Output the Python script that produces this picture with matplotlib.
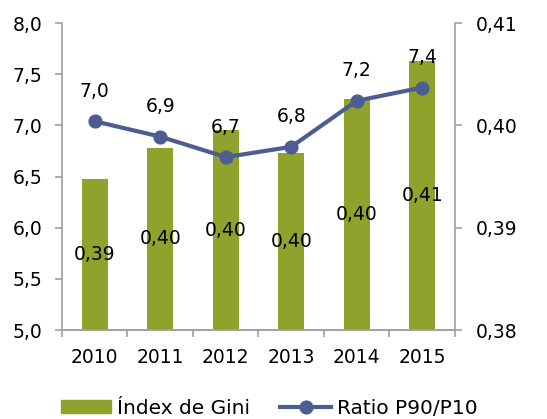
import matplotlib.pyplot as plt
from matplotlib.lines import Line2D
from matplotlib.patches import Patch
from matplotlib.ticker import FixedLocator

plt.rcParams['font.family'] = ['DejaVu Sans']

years = ['2010', '2011', '2012', '2013', '2014', '2015']
gini = [0.3948, 0.3978, 0.3995, 0.3973, 0.4026, 0.4063]
ratio = [7.04, 6.89, 6.69, 6.79, 7.24, 7.37]

GREEN = '#8FA22C'
BLUE = '#4E5D91'
GREY = '#A0A0A0'
FS = 13.5


def comma(v, nd):
    return f"{v:.{nd}f}".replace('.', ',')


fig = plt.figure(figsize=(5.47, 4.19), dpi=100)
ax = fig.add_axes([0.1133, 0.2124, 0.7185, 0.7326])
ax2 = ax.twinx()

x = list(range(len(years)))

# bars: Gini index on right axis
ax2.bar(x, [g - 0.38 for g in gini], bottom=0.38, width=0.40, color=GREEN, zorder=2)
for xi, g in zip(x, gini):
    ax2.text(xi, (0.38 + g) / 2, comma(g, 2), ha='center', va='center', fontsize=FS, color='black')

# line: ratio P90/P10 on left axis
ax.plot(x, ratio, color=BLUE, lw=3.0, marker='o', ms=9.2, zorder=3)
for xi, r in zip(x, ratio):
    ax.annotate(comma(r, 1), (xi, r), xytext=(0, 21.5), textcoords='offset points',
                ha='center', va='center', fontsize=FS)

ax.set_zorder(ax2.get_zorder() + 1)
ax.patch.set_visible(False)

ax.set_xlim(-0.5, 5.5)
ax.set_ylim(5.0, 8.0)
ax2.set_ylim(0.38, 0.41)
ax.set_yticks([5.0, 5.5, 6.0, 6.5, 7.0, 7.5, 8.0])
ax.set_yticklabels([comma(v, 1) for v in [5.0, 5.5, 6.0, 6.5, 7.0, 7.5, 8.0]])
ax2.set_yticks([0.38, 0.39, 0.40, 0.41])
ax2.set_yticklabels([comma(v, 2) for v in [0.38, 0.39, 0.40, 0.41]])

ax.set_xticks(x)
ax.set_xticklabels(years)
ax.xaxis.set_minor_locator(FixedLocator([i - 0.5 for i in range(len(years) + 1)]))
ax.tick_params(axis='x', which='major', length=0, pad=13, labelsize=FS)
ax.tick_params(axis='x', which='minor', length=5, color=GREY, width=1.2)
ax.tick_params(axis='y', length=5, color=GREY, width=1.2, labelsize=FS, pad=9)
ax2.tick_params(axis='y', length=5, color=GREY, width=1.2, labelsize=FS, pad=10)

for a in (ax, ax2):
    a.spines['top'].set_visible(False)
    for s in ('left', 'right', 'bottom'):
        a.spines[s].set_color(GREY)
        a.spines[s].set_linewidth(1.2)
ax.spines['right'].set_visible(False)
ax2.spines['left'].set_visible(False)

handles = [Patch(color=GREEN, label='Índex de Gini'),
           Line2D([0], [0], color=BLUE, lw=3.0, marker='o', ms=9.2, label='Ratio P90/P10')]
fig.legend(handles=handles, loc='center', bbox_to_anchor=(0.492, 0.026), ncol=2,
           frameon=False, fontsize=14.5, handlelength=2.5, handleheight=0.65,
           handletextpad=0.3, columnspacing=1.5)

fig.savefig('out.png', dpi=100)
